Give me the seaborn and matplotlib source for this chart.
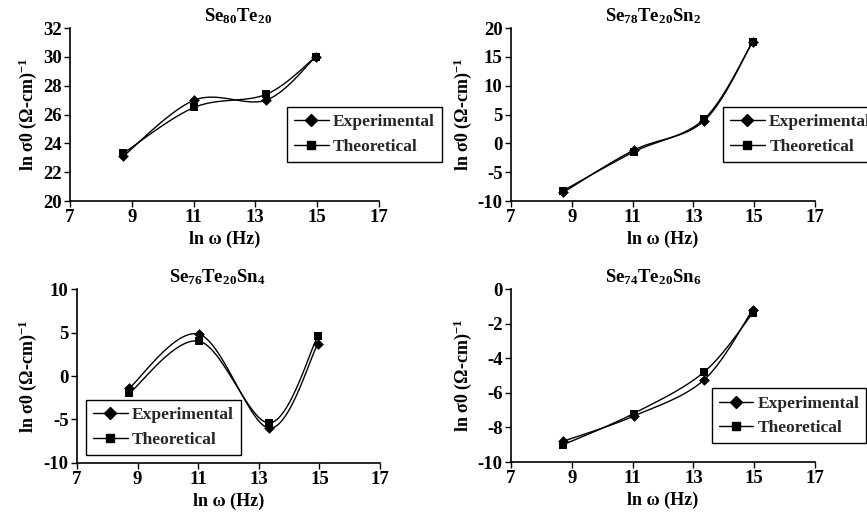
import numpy as np
import matplotlib
matplotlib.use("Agg")
import matplotlib.pyplot as plt
import seaborn as sns
from matplotlib.lines import Line2D

# ---- data ----
freq_ln = [8.72, 11.03, 13.35, 14.95]

titles = [r"Se$_{\mathbf{80}}$Te$_{\mathbf{20}}$",
          r"Se$_{\mathbf{78}}$Te$_{\mathbf{20}}$Sn$_{\mathbf{2}}$",
          r"Se$_{\mathbf{76}}$Te$_{\mathbf{20}}$Sn$_{\mathbf{4}}$",
          r"Se$_{\mathbf{74}}$Te$_{\mathbf{20}}$Sn$_{\mathbf{6}}$"]

exp_80 = [23.1, 27.0, 27.0, 30.0]
theo_80 = [23.3, 26.5, 27.4, 30.0]
exp_78 = [-8.5, -1.2, 3.9, 17.6]
theo_78 = [-8.2, -1.5, 4.2, 17.6]
exp_76 = [-1.4, 4.8, -6.0, 3.7]
theo_76 = [-2.0, 4.0, -5.4, 4.6]
exp_74 = [-8.8, -7.35, -5.25, -1.2]
theo_74 = [-9.0, -7.2, -4.8, -1.4]

y_ranges = [(20, 32, 2), (-10, 20, 5), (-10, 10, 5), (-10, 0, 2)]
x_ticks = [7, 9, 11, 13, 15, 17]

sns.set_theme(style="ticks")
plt.rcParams["font.family"] = ["Liberation Serif", "DejaVu Serif"]
plt.rcParams["font.weight"] = "bold"
plt.rcParams["axes.labelweight"] = "bold"
plt.rcParams["axes.titleweight"] = "bold"
plt.rcParams["axes.unicode_minus"] = False
plt.rcParams["mathtext.fontset"] = "custom"
plt.rcParams["mathtext.rm"] = "Liberation Serif:bold"
plt.rcParams["mathtext.bf"] = "Liberation Serif:bold"
plt.rcParams["mathtext.it"] = "Liberation Serif:bold"
plt.rcParams["mathtext.default"] = "bf"


def smooth(x, y, n=40):
    """Catmull-Rom style Bezier smoothing (like spreadsheet smoothed lines)."""
    x = np.asarray(x, float)
    y = np.asarray(y, float)
    P = np.column_stack([x, y])
    out = []
    for i in range(len(P) - 1):
        p0 = P[i - 1] if i > 0 else P[i]
        p1 = P[i]
        p2 = P[i + 1]
        p3 = P[i + 2] if i + 2 < len(P) else P[i + 1]
        c1 = p1 + (p2 - p0) / 6.0
        c2 = p2 - (p3 - p1) / 6.0
        t = np.linspace(0, 1, n)[:, None]
        seg = ((1 - t) ** 3) * p1 + 3 * ((1 - t) ** 2) * t * c1 + 3 * (1 - t) * t ** 2 * c2 + t ** 3 * p2
        if i > 0:
            seg = seg[1:]
        out.append(seg)
    S = np.vstack(out)
    return S[:, 0], S[:, 1]


fig = plt.figure(figsize=(8.67, 5.15), dpi=100)

positions = [
    [0.0807, 0.6097, 0.3564, 0.3359],
    [0.5894, 0.6097, 0.3506, 0.3359],
    [0.0888, 0.1010, 0.3495, 0.3378],
    [0.5894, 0.1029, 0.3506, 0.3359],
]
series = [(exp_80, theo_80), (exp_78, theo_78), (exp_76, theo_76), (exp_74, theo_74)]
title_x = [0.544, 0.467, 0.462, 0.467]
legend_anchor = [(0.702, 0.545), (0.698, 0.545), (0.03, 0.36), (0.66, 0.425)]

for k in range(4):
    ax = fig.add_axes(positions[k])
    e, t = series[k]
    xs, ys = smooth(freq_ln, e)
    sns.lineplot(x=xs, y=ys, ax=ax, color="black", lw=1.0, sort=False, estimator=None)
    xs, ys = smooth(freq_ln, t)
    sns.lineplot(x=xs, y=ys, ax=ax, color="black", lw=1.0, sort=False, estimator=None)
    sns.scatterplot(x=freq_ln, y=e, ax=ax, marker="D", s=30, color="black",
                    edgecolor="black", linewidth=0, zorder=5)
    sns.scatterplot(x=freq_ln, y=t, ax=ax, marker="s", s=34, color="black",
                    edgecolor="black", linewidth=0, zorder=5)

    lo, hi, st = y_ranges[k]
    ax.set_ylim(lo, hi)
    ax.set_yticks(np.arange(lo, hi + st / 2, st))
    ax.set_xlim(7, 17)
    ax.set_xticks(x_ticks)
    ax.tick_params(axis="both", direction="out", length=4, width=1, colors="black",
                   labelsize=13.5, pad=2)
    for lab in ax.get_xticklabels() + ax.get_yticklabels():
        lab.set_fontweight("bold")
    sns.despine(ax=ax)
    for sp in ("left", "bottom"):
        ax.spines[sp].set_color("black")
        ax.spines[sp].set_linewidth(1.2)
    ax.set_facecolor("white")
    ax.grid(False)

    ax.set_xlabel("ln ω (Hz)", fontsize=13, fontweight="bold", color="black", labelpad=3)
    ax.set_ylabel("ln σ0 (Ω-cm)$^{-1}$", fontsize=13, fontweight="bold", color="black", labelpad=3)
    ax.set_title(titles[k], fontsize=13.5, fontweight="bold", color="black", x=title_x[k], pad=5)

    handles = [
        Line2D([], [], color="black", lw=1.0, marker="D", markersize=6),
        Line2D([], [], color="black", lw=1.0, marker="s", markersize=6),
    ]
    leg = ax.legend(handles, ["Experimental", "Theoretical"], loc="upper left",
                    bbox_to_anchor=legend_anchor[k], frameon=True, fancybox=False,
                    edgecolor="black", framealpha=1, prop={"weight": "bold", "size": 12.5},
                    handlelength=2.0, handletextpad=0.25, labelspacing=0.5,
                    borderpad=0.4, borderaxespad=0)
    leg.get_frame().set_linewidth(1.0)
    leg.set_clip_on(False)

fig.savefig("out.png", dpi=100, facecolor="white")
